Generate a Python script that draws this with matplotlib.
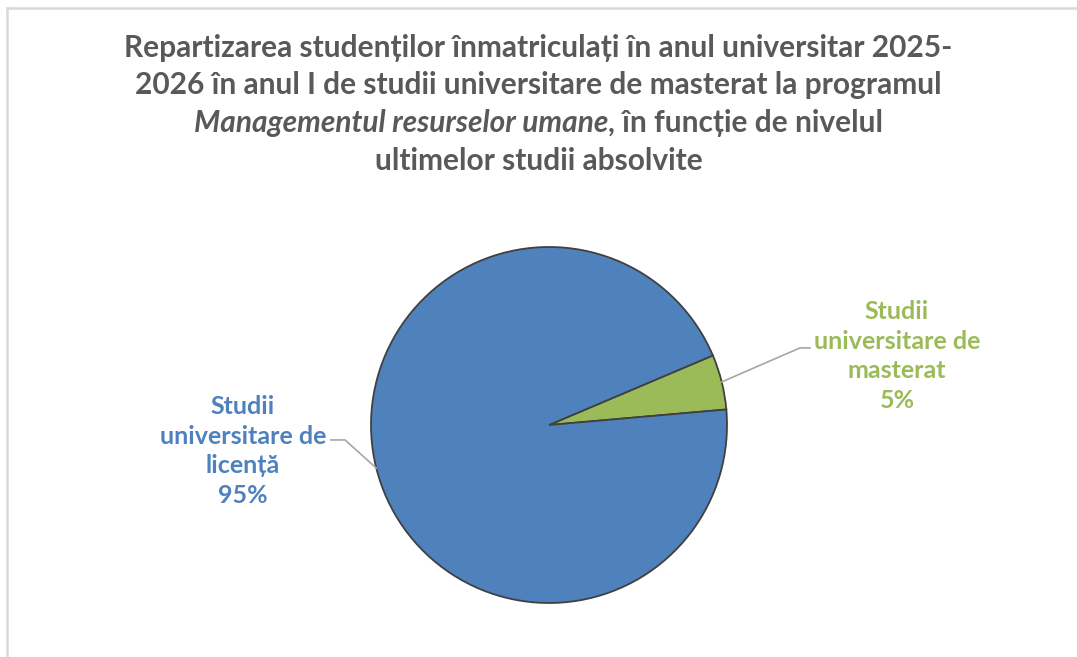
import matplotlib
matplotlib.use('Agg')
import matplotlib.pyplot as plt
import numpy as np
from matplotlib.lines import Line2D

# data
categories = ['Studii universitare de masterat', 'Studii universitare de licență']
label_lines = [['Studii', 'universitare de', 'masterat', '5%'],
               ['Studii', 'universitare de', 'licență', '95%']]
shares = [5, 95]
colors = ['#9BBB59', '#4F81BD']

title_lines = ['Repartizarea studenților înmatriculați în anul universitar 2025-',
               '2026 în anul I de studii universitare de masterat la programul']
title_italic = 'Managementul resurselor umane'
title_rest = ', în funcție de nivelul'
title_last = 'ultimelor studii absolvite'

FONT = 'Lato'
TITLE_COLOR = '#595959'
W, H = 1077, 657

fig = plt.figure(figsize=(W / 100, H / 100), dpi=100)
fig.patch.set_facecolor('white')

# chart border (top and left edges visible)
fig.add_artist(Line2D([7 / W, 1], [1 - 8 / H, 1 - 8 / H], color='#D9D9D9', lw=1.8, transform=fig.transFigure))
fig.add_artist(Line2D([7 / W, 7 / W], [0, 1 - 8 / H], color='#D9D9D9', lw=1.8, transform=fig.transFigure))

# pie axes: centre (549, 425), radius 178 px
cx, cy, r = 549, 425, 178
ax = fig.add_axes([(cx - r) / W, (H - cy - r) / H, 2 * r / W, 2 * r / H])
wedges, _ = ax.pie(shares, colors=colors, startangle=23, counterclock=False,
                   wedgeprops=dict(edgecolor='#404040', linewidth=1.3))
ax.set_xlim(-1, 1)
ax.set_ylim(-1, 1)
ax.set_aspect('auto')
ax.axis('off')

# labels with leader lines
label_pos = [(1.955, 0.388), (-1.719, -0.146)]
elbow = [(1.41, 0.433, 1.466), (-1.146, -0.084, -1.225)]
for w, lines, col, (lx, ly), (ex, ey, hx) in zip(wedges, label_lines, colors, label_pos, elbow):
    ang = np.deg2rad((w.theta1 + w.theta2) / 2)
    x0, y0 = np.cos(ang), np.sin(ang)
    ax.plot([x0, ex, hx], [y0, ey, ey], color='#A6A6A6', lw=1.2, clip_on=False)
    ax.text(lx, ly, '\n'.join(lines), ha='center', va='center', color=col,
            fontsize=18, fontweight='bold', family=FONT, linespacing=1.35)

# title
ys = [48, 85, 123, 161]
tk = dict(fontsize=21.5, fontweight='bold', family=FONT, color=TITLE_COLOR, va='center')
for y, t in zip(ys[:2], title_lines):
    fig.text(0.5, 1 - y / H, t, ha='center', **tk)
fig.text(0.5, 1 - ys[3] / H, title_last, ha='center', **tk)

t1 = fig.text(0, 1 - ys[2] / H, title_italic, ha='left', style='italic', **tk)
t2 = fig.text(0, 1 - ys[2] / H, title_rest, ha='left', **tk)
renderer = fig.canvas.get_renderer()
w1 = t1.get_window_extent(renderer).width
w2 = t2.get_window_extent(renderer).width
start = (W - w1 - w2) / 2
t1.set_x(start / W)
t2.set_x((start + w1) / W)

fig.savefig('out.png', dpi=100, facecolor='white')
